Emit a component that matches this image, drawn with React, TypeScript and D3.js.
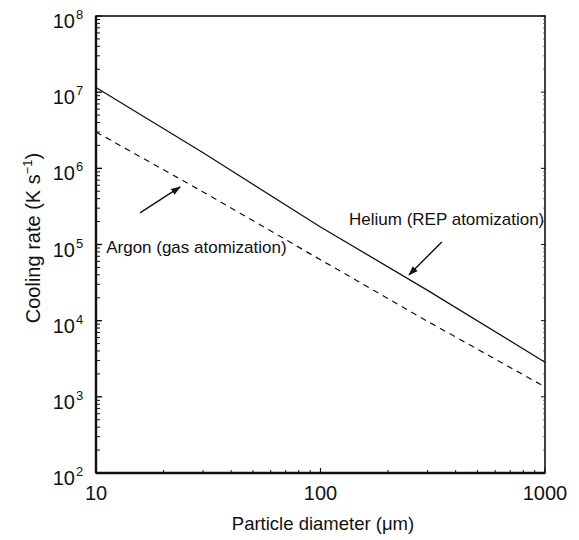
import React from "react";
import * as d3 from "d3";

const W = 579;
const H = 540;

const xDomain = [10, 1000];
const yDomain = [1e2, 1e8];
const xTickValues = [10, 100, 1000];
const xTickLabels = ["10", "100", "1000"];
const yTickExponents = [2, 3, 4, 5, 6, 7, 8];

const heliumD = [10, 30, 100, 300, 1000];
const heliumRate = [1.15e7, 1.6e6, 1.7e5, 2.5e4, 2.85e3];
const argonD = [10, 30, 100, 300, 1000];
const argonRate = [3.0e6, 4.9e5, 6.3e4, 9.8e3, 1.35e3];

const labels = [
  { text: "Helium (REP atomization)", x: 134, y: 1.8e5 },
  { text: "Argon (gas atomization)", x: 11.1, y: 7.7e4 },
];
const arrows = [
  { from: [15.7, 2.6e5], to: [23.7, 5.7e5] },
  { from: [347, 1.08e5], to: [248, 4.0e4] },
];

export default function App() {
  const m = { left: 96, right: 34, top: 16, bottom: 67 };
  const x = d3.scaleLog().domain(xDomain).range([m.left, W - m.right]);
  const y = d3.scaleLog().domain(yDomain).range([H - m.bottom, m.top]);
  const line = d3
    .line<[number, number]>()
    .x((d) => x(d[0]))
    .y((d) => y(d[1]));
  const he = heliumD.map((d, i) => [d, heliumRate[i]] as [number, number]);
  const ar = argonD.map((d, i) => [d, argonRate[i]] as [number, number]);

  const yMinor: number[] = [];
  for (let e = 2; e < 8; e++) for (let k = 2; k <= 9; k++) yMinor.push(k * Math.pow(10, e));
  const xMinor: number[] = [];
  for (let e = 1; e < 3; e++) for (let k = 2; k <= 9; k++) xMinor.push(k * Math.pow(10, e));

  const x0 = m.left, x1 = W - m.right, y0 = H - m.bottom, y1 = m.top;
  const font = "Liberation Sans, Arial, sans-serif";

  return (
    <svg width={W} height={H} style={{ position: "absolute", left: 0, top: 0, background: "#fff" }} fontFamily={font}>
      <defs>
        <marker id="ah" viewBox="0 0 10 10" refX="9" refY="5" markerWidth="10" markerHeight="10" orient="auto" markerUnits="userSpaceOnUse">
          <path d="M0,1.5 L10,5 L0,8.5 Z" fill="#111" />
        </marker>
      </defs>
      {/* frame */}
      <rect x={x0} y={y1} width={x1 - x0} height={y0 - y1} fill="none" stroke="#111" strokeWidth={1.6} />
      <line x1={x0} x2={x0} y1={y1} y2={y0} stroke="#111" strokeWidth={2.4} />
      <line x1={x0} x2={x1} y1={y0} y2={y0} stroke="#111" strokeWidth={2.4} />
      {/* y ticks */}
      {yTickExponents.map((e) => (
        <g key={"ym" + e}>
          <line x1={x0} x2={x0 + 6} y1={y(Math.pow(10, e))} y2={y(Math.pow(10, e))} stroke="#111" strokeWidth={1.4} />
          <line x1={x1} x2={x1 - 4} y1={y(Math.pow(10, e))} y2={y(Math.pow(10, e))} stroke="#111" strokeWidth={1} />
          <text x={75} y={y(Math.pow(10, e)) + 12} textAnchor="end" fontSize={20} fill="#111">10</text>
          <text x={76} y={y(Math.pow(10, e)) + 3} textAnchor="start" fontSize={13} fill="#111">{e}</text>
        </g>
      ))}
      {yMinor.map((v) => (
        <g key={"yn" + v}>
          <line x1={x0} x2={x0 + 4} y1={y(v)} y2={y(v)} stroke="#111" strokeWidth={1} />
          <line x1={x1} x2={x1 - 2} y1={y(v)} y2={y(v)} stroke="#555" strokeWidth={0.8} />
        </g>
      ))}
      {/* x ticks */}
      {xMinor.map((v) => (
        <line key={"xn" + v} x1={x(v)} x2={x(v)} y1={y0} y2={y0 - 3} stroke="#111" strokeWidth={1} />
      ))}
      {xTickValues.map((v, i) => (
        <g key={"xt" + v}>
          <line x1={x(v)} x2={x(v)} y1={y0} y2={y0 - 5} stroke="#111" strokeWidth={1.2} />
          <text x={x(v)} y={500} textAnchor="middle" fontSize={20} fill="#111">{xTickLabels[i]}</text>
        </g>
      ))}
      {/* axis titles */}
      <text x={323} y={530} textAnchor="middle" fontSize={18.5} fill="#111">
        Particle diameter (μm)
      </text>
      <text transform={`translate(40,238) rotate(-90)`} textAnchor="middle" fontSize={20} fill="#111">
        Cooling rate (K s<tspan dy={-8} fontSize={13}>−1</tspan><tspan dy={8}>)</tspan>
      </text>
      {/* lines */}
      <path d={line(he) || ""} fill="none" stroke="#111" strokeWidth={1.3} />
      <path d={line(ar) || ""} fill="none" stroke="#111" strokeWidth={1.2} strokeDasharray="6,5" />
      {/* labels */}
      {labels.map((l) => (
        <text key={l.text} x={x(l.x)} y={y(l.y)} textAnchor="start" fontSize={17} fill="#111">
          {l.text}
        </text>
      ))}
      {arrows.map((a, i) => (
        <line key={"ar" + i} x1={x(a.from[0])} y1={y(a.from[1])} x2={x(a.to[0])} y2={y(a.to[1])} stroke="#111" strokeWidth={1.4} markerEnd="url(#ah)" />
      ))}
    </svg>
  );
}
